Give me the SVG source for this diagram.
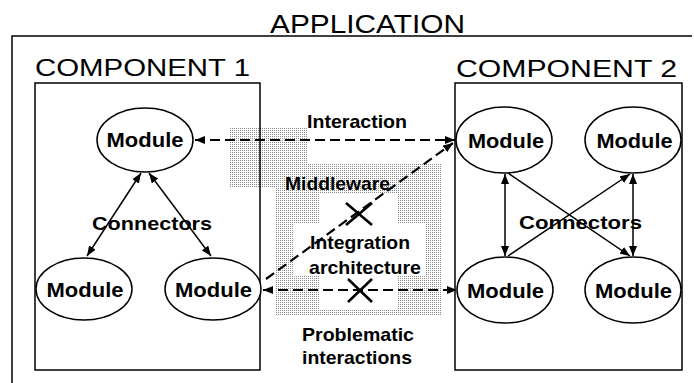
<svg xmlns="http://www.w3.org/2000/svg" width="694" height="383" viewBox="0 0 694 383">
<style>
.frame{fill:none;stroke:#000;stroke-width:1.5}
.mod{fill:#fff;stroke:#000;stroke-width:1.5}
.mt{font-family:"Liberation Sans",Arial,sans-serif;font-weight:bold;font-size:21px;fill:#000}
.title{font-family:"Liberation Sans",Arial,sans-serif;fill:#000}
.lbl{font-family:"Liberation Sans",Arial,sans-serif;font-weight:bold;font-size:19px;fill:#000}
.solid{fill:none;stroke:#000;stroke-width:1.5}
.dash{fill:none;stroke:#000;stroke-width:2.2;stroke-dasharray:10 5}
.xm{stroke:#000;stroke-width:2.6;fill:none}
</style>
<defs>
<pattern id="stip" width="2" height="2" patternUnits="userSpaceOnUse">
<rect x="0" y="0" width="1" height="1" fill="#8a8a8a"/>
</pattern>
<marker id="ah" viewBox="0 0 10 8" refX="10" refY="4" markerWidth="10" markerHeight="8" markerUnits="userSpaceOnUse" orient="auto-start-reverse">
<path d="M0,0 L10,4 L0,8 z" fill="#000"/>
</marker>
</defs>
<rect width="694" height="383" fill="#fff"/>
<g id="middleware-area">
<rect x="229" y="127" width="78" height="60" fill="url(#stip)"/>
<path fill="url(#stip)" fill-rule="evenodd" d="M275,164 H442 V315 H275 Z M320,193 H398 V223 H425 V275 H398 V309 H320 V275 H293 V223 H320 Z"/>
</g>
<g id="application">
<path class="frame" d="M12,383 V36 H692"/>
<text class="title" x="270" y="33" font-size="25" textLength="195" lengthAdjust="spacingAndGlyphs">APPLICATION</text>
</g>
<g id="component1">
<rect class="frame" x="35" y="83" width="225" height="287"/>
<text class="title" x="35" y="76" font-size="23" textLength="215" lengthAdjust="spacingAndGlyphs">COMPONENT 1</text>
</g>
<g id="component2">
<rect class="frame" x="455" y="83" width="227" height="287"/>
<text class="title" x="456" y="77" font-size="23" textLength="221" lengthAdjust="spacingAndGlyphs">COMPONENT 2</text>
</g>
<g id="c1-module-top">
<ellipse class="mod" cx="145" cy="140" rx="48" ry="32"/>
<text class="mt" x="145" y="147" text-anchor="middle" textLength="77" lengthAdjust="spacingAndGlyphs">Module</text>
</g>
<g id="c1-module-left">
<ellipse class="mod" cx="84" cy="289" rx="48" ry="31"/>
<text class="mt" x="85" y="297" text-anchor="middle" textLength="77" lengthAdjust="spacingAndGlyphs">Module</text>
</g>
<g id="c1-module-right">
<ellipse class="mod" cx="213" cy="289" rx="48" ry="31"/>
<text class="mt" x="213.5" y="297" text-anchor="middle" textLength="77" lengthAdjust="spacingAndGlyphs">Module</text>
</g>
<g id="c2-module-tl">
<ellipse class="mod" cx="504" cy="140" rx="48" ry="33"/>
<text class="mt" x="506" y="148" text-anchor="middle" textLength="76" lengthAdjust="spacingAndGlyphs">Module</text>
</g>
<g id="c2-module-tr">
<ellipse class="mod" cx="633" cy="140" rx="48" ry="33"/>
<text class="mt" x="634.5" y="148" text-anchor="middle" textLength="76" lengthAdjust="spacingAndGlyphs">Module</text>
</g>
<g id="c2-module-bl">
<ellipse class="mod" cx="505" cy="290" rx="48" ry="33"/>
<text class="mt" x="505.5" y="298" text-anchor="middle" textLength="77" lengthAdjust="spacingAndGlyphs">Module</text>
</g>
<g id="c2-module-br">
<ellipse class="mod" cx="633" cy="290" rx="48" ry="33"/>
<text class="mt" x="633.5" y="298" text-anchor="middle" textLength="77" lengthAdjust="spacingAndGlyphs">Module</text>
</g>
<g id="labels">
<text class="lbl" x="92" y="230" textLength="120" lengthAdjust="spacingAndGlyphs">Connectors</text>
<text class="lbl" x="519" y="229" font-weight="normal" font-size="20" textLength="123" lengthAdjust="spacingAndGlyphs">Connectors</text>
<text class="lbl" x="307" y="128" textLength="100" lengthAdjust="spacingAndGlyphs">Interaction</text>
<text class="lbl" x="285" y="190" textLength="105" lengthAdjust="spacingAndGlyphs">Middleware</text>
<text class="lbl" x="310" y="249" textLength="100" lengthAdjust="spacingAndGlyphs">Integration</text>
<text class="lbl" x="309" y="274" textLength="112" lengthAdjust="spacingAndGlyphs">architecture</text>
<text class="lbl" x="302" y="341" textLength="112" lengthAdjust="spacingAndGlyphs">Problematic</text>
<text class="lbl" x="302" y="364" textLength="110" lengthAdjust="spacingAndGlyphs">interactions</text>
</g>
<g id="connectors">
<line class="solid" x1="141" y1="173" x2="87" y2="256" marker-start="url(#ah)" marker-end="url(#ah)"/>
<line class="solid" x1="149" y1="173" x2="211" y2="256" marker-start="url(#ah)" marker-end="url(#ah)"/>
<line class="solid" x1="505" y1="174" x2="505" y2="256" marker-start="url(#ah)" marker-end="url(#ah)"/>
<line class="solid" x1="633" y1="174" x2="633" y2="256" marker-start="url(#ah)" marker-end="url(#ah)"/>
<line class="solid" x1="508" y1="173" x2="630" y2="256" marker-end="url(#ah)"/>
<line class="solid" x1="508" y1="256" x2="630" y2="174" marker-end="url(#ah)"/>
<line class="dash" x1="195" y1="140" x2="455" y2="140" marker-start="url(#ah)" marker-end="url(#ah)"/>
<line class="dash" x1="266" y1="279" x2="453" y2="143" marker-end="url(#ah)"/>
<line class="dash" x1="263" y1="290" x2="457" y2="290" marker-start="url(#ah)" marker-end="url(#ah)"/>
<path class="xm" d="M346,203 L372,225 M346,225 L372,203"/>
<path class="xm" d="M348,279 L372,302 M348,302 L372,279"/>
</g>
</svg>
